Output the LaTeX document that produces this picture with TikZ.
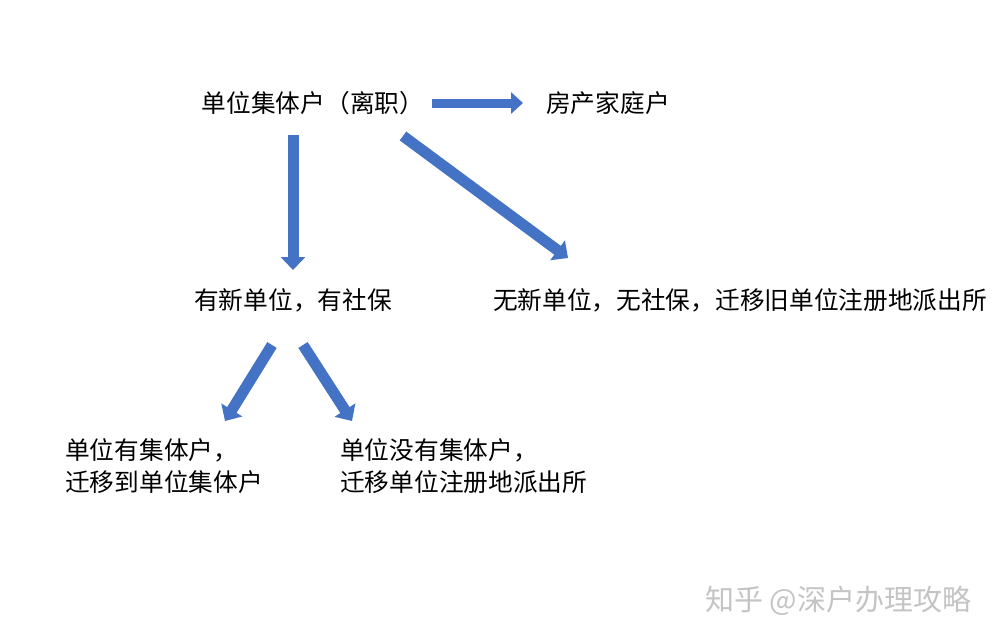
\documentclass[tikz,border=0pt]{standalone}
\usepackage{fontspec}
\setmainfont{Noto Sans CJK SC}
\newfontfamily\cjk{Noto Sans CJK SC}
\usetikzlibrary{arrows.meta}
\definecolor{arrblue}{HTML}{4472C4}
\definecolor{wmgray}{HTML}{C4C4C4}
\tikzset{
  lbl/.style={font=\cjk\fontsize{24.7}{32}\selectfont, text=black, inner sep=0pt},
  blk/.style={draw=arrblue, line width=11pt, -{Triangle[width=24pt,length=13pt]}},
  blkh/.style={draw=arrblue, line width=9pt, -{Triangle[width=21pt,length=12pt]}},
}
\begin{document}
\begin{tikzpicture}[x=1pt,y=-1pt]
\useasboundingbox (0,0) rectangle (1000,642);
\fill[white] (0,0) rectangle (1000,642);
\node[lbl] (top) at (313,103) {单位集体户（离职）};
\node[lbl] (fam) at (608,103) {房产家庭户};
\node[lbl] (has) at (293,300) {有新单位，有社保};
\node[lbl] (none) at (740,300) {无新单位，无社保，迁移旧单位注册地派出所};
\node[lbl, anchor=west, align=left] (coll) at (65,466) {单位有集体户，\\迁移到单位集体户};
\node[lbl, anchor=west, align=left] (nocoll) at (340,466) {单位没有集体户，\\迁移单位注册地派出所};
\node[font=\cjk\fontsize{29}{32}\selectfont, text=wmgray, anchor=west, inner sep=0pt] (wm) at (705,601) {知乎 @深户办理攻略};
\coordinate (a1s) at (432,103); \coordinate (a1e) at (523,103);
\coordinate (a2s) at (293,135); \coordinate (a2e) at (293,270);
\coordinate (a3s) at (403,136); \coordinate (a3e) at (568,258);
\coordinate (a4s) at (272,345); \coordinate (a4e) at (225,421);
\coordinate (a5s) at (303,345); \coordinate (a5e) at (352,421);
\draw[blkh] (a1s) -- (a1e);
\draw[blk] (a2s) -- (a2e);
\draw[blk] (a3s) -- (a3e);
\draw[blk] (a4s) -- (a4e);
\draw[blk] (a5s) -- (a5e);
\end{tikzpicture}
\end{document}
